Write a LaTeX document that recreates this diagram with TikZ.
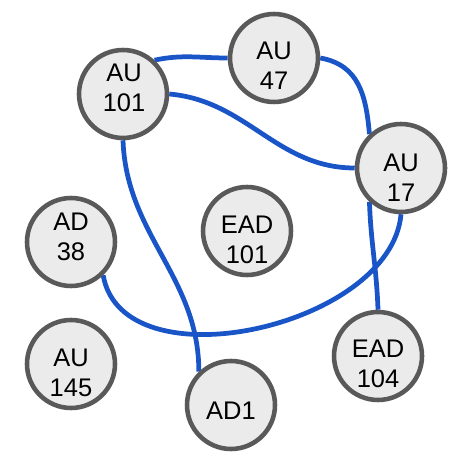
\documentclass[tikz,border=0pt]{standalone}
\usepackage{fontspec}
\setmainfont{Liberation Sans}
\usetikzlibrary{backgrounds}
\definecolor{edgeblue}{HTML}{1A55C8}
\definecolor{ringgray}{HTML}{595959}
\definecolor{nodefill}{HTML}{EBEBEB}
\begin{document}
\begin{tikzpicture}[x=0.02cm,y=0.02cm,
  vertex/.style={circle, draw=ringgray, fill=nodefill, line width=2.6pt, minimum size=1.76cm, inner sep=0pt},
  vtext/.style={font=\fontsize{14.5}{17}\selectfont, align=center, inner sep=0pt, text=black},
  link/.style={draw=edgeblue, line width=2.7pt}]
\useasboundingbox (0,0) rectangle (471,-475);
\node[vertex] (au101) at (123,-94) {};
\node[vertex] (au47) at (274,-58) {};
\node[vertex] (au17) at (401,-168) {};
\node[vertex] (ad38) at (71,-242) {};
\node[vertex] (ead101) at (247,-231) {};
\node[vertex] (au145) at (71,-364) {};
\node[vertex] (ad1) at (231,-405) {};
\node[vertex] (ead104) at (378,-356) {};
\node[vtext] (au101t) at (124,-88) {AU\\101};
\node[vtext] (au47t) at (274,-66) {AU\\47};
\node[vtext] (au17t) at (401,-178) {AU\\17};
\node[vtext] (ad38t) at (71,-237) {AD\\38};
\node[vtext] (ead101t) at (247,-240) {EAD\\101};
\node[vtext] (au145t) at (71,-373) {AU\\145};
\node[vtext] (ad1t) at (231,-411) {AD1};
\node[vtext] (ead104t) at (378,-364) {EAD\\104};
\begin{scope}[on background layer]
\draw[link] (au101.47) to[out=12,in=180] (au47.180);
\draw[link] (au47.0) to[out=-10,in=95,looseness=1.1] (au17.133);
\draw[link] (au101.0) to[out=-5,in=180] (au17.180);
\draw[link] (au101.-90) to[out=-88,in=90] (ad1.134);
\draw[link] (ad38.-46) to[out=-80,in=-95,looseness=0.95] (au17.-90);
\draw[link] (au17.227) to[out=-88,in=92] (ead104.90);
\end{scope}
\end{tikzpicture}
\end{document}
